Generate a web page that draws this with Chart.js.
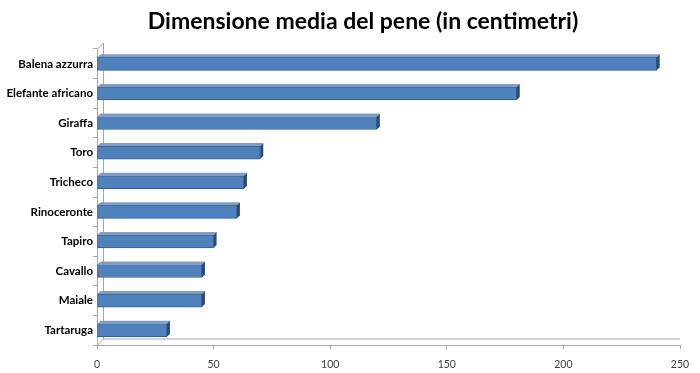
<!DOCTYPE html>
<html>
<head>
<meta charset="utf-8">
<script src="https://cdn.jsdelivr.net/npm/chart.js@4"></script>
<style>
  html, body { margin: 0; padding: 0; background: #fff; }
  #wrap { width: 700px; height: 373px; position: relative; }
</style>
</head>
<body>
<div id="wrap"><canvas id="chart_penis"></canvas></div>
<script>
var chartTitle = 'Dimensione media del pene (in centimetri)';
var animals = [
    'Balena azzurra', 'Elefante africano', 'Giraffa', 'Toro', 'Tricheco',
    'Rinoceronte', 'Tapiro', 'Cavallo', 'Maiale', 'Tartaruga'
];
var lengthsCm = [240, 180, 120, 70, 63, 60, 50, 45, 45, 30];
var xTicks = [0, 50, 100, 150, 200, 250];

var DEPTH = 6;

// title sits a bit right of the canvas centre in the original, so draw it by hand
var titlePlugin = {
    id: 'offsetTitle',
    afterDraw: function (chart) {
        var ctx = chart.ctx;
        ctx.save();
        ctx.fillStyle = '#000';
        ctx.font = 'bold 23px Lato';
        ctx.textAlign = 'center';
        ctx.textBaseline = 'middle';
        ctx.fillText(chartTitle, 363, 22);
        ctx.restore();
    }
};

// draws the little 3D wall and the bar end faces, Excel style
var depthPlugin = {
    id: 'depth3d',
    beforeDatasetsDraw: function (chart) {
        var ctx = chart.ctx;
        var a = chart.chartArea;
        ctx.save();
        ctx.strokeStyle = '#a6a6a6';
        ctx.lineWidth = 1;
        ctx.beginPath();
        ctx.moveTo(a.left + 0.5, a.top);
        ctx.lineTo(a.left + DEPTH + 0.5, a.top - DEPTH);
        ctx.lineTo(a.left + DEPTH + 0.5, a.bottom - DEPTH);
        ctx.lineTo(a.left + 0.5, a.bottom);
        ctx.moveTo(a.left + DEPTH + 0.5, a.bottom - DEPTH);
        ctx.lineTo(a.right, a.bottom - DEPTH);
        ctx.stroke();
        ctx.restore();
    },
    afterDatasetsDraw: function (chart) {
        var ctx = chart.ctx;
        var meta = chart.getDatasetMeta(0);
        ctx.save();
        meta.data.forEach(function (bar) {
            var h = bar.height / 2;
            var x = bar.x, top = bar.y - h, bot = bar.y + h;
            // top face
            ctx.fillStyle = '#7a9fcf';
            ctx.beginPath();
            ctx.moveTo(bar.base, top);
            ctx.lineTo(bar.base + 3, top - 3);
            ctx.lineTo(x + 3, top - 3);
            ctx.lineTo(x, top);
            ctx.closePath();
            ctx.fill();
            // right side face
            ctx.fillStyle = '#2b4a72';
            ctx.beginPath();
            ctx.moveTo(x, top);
            ctx.lineTo(x + 3, top - 3);
            ctx.lineTo(x + 3, bot - 3);
            ctx.lineTo(x, bot);
            ctx.closePath();
            ctx.fill();
        });
        ctx.restore();
    }
};

var chart_penis = new Chart(document.getElementById('chart_penis'), {
    type: 'bar',
    data: {
        labels: animals,
        datasets: [{
            label: 'Dimensione (cm)',
            data: lengthsCm,
            backgroundColor: function (c) {
                var chart = c.chart;
                var el = c.element;
                if (!chart.chartArea || !el || el.y === undefined) return '#4f81bd';
                var g = chart.ctx.createLinearGradient(0, el.y - 7, 0, el.y + 7);
                g.addColorStop(0, '#5b8cc8');
                g.addColorStop(0.5, '#4f81bd');
                g.addColorStop(1, '#3e6ba3');
                return g;
            },
            borderColor: '#385d8a',
            borderWidth: 1,
            borderSkipped: false,
            barThickness: 13
        }]
    },
    options: {
        indexAxis: 'y',
        animation: false,
        responsive: true,
        maintainAspectRatio: false,
        layout: { padding: { left: 0, right: 20, top: 49, bottom: 0 } },
        plugins: {
            legend: { display: false },
            tooltip: { enabled: false },
            title: { display: false }
        },
        scales: {
            x: {
                min: 0,
                max: 250,
                afterBuildTicks: function (scale) {
                    scale.ticks = xTicks.map(function (v) { return { value: v }; });
                },
                afterFit: function (scale) { scale.height = 28; },
                grid: {
                    drawOnChartArea: false,
                    drawTicks: true,
                    tickLength: 4,
                    color: '#a6a6a6'
                },
                border: { color: '#a6a6a6' },
                ticks: {
                    color: '#404040',
                    padding: 9,
                    maxRotation: 0,
                    font: { family: 'Lato', size: 10.5 }
                }
            },
            y: {
                afterFit: function (scale) { scale.width = 97; },
                grid: {
                    offset: true,
                    drawOnChartArea: false,
                    drawTicks: true,
                    tickLength: 4,
                    color: '#a6a6a6'
                },
                border: { color: '#a6a6a6' },
                ticks: {
                    color: '#000',
                    padding: 0,
                    font: { family: 'Lato', size: 11.5, weight: 'bold' }
                }
            }
        }
    },
    plugins: [depthPlugin, titlePlugin]
});
</script>
</body>
</html>
